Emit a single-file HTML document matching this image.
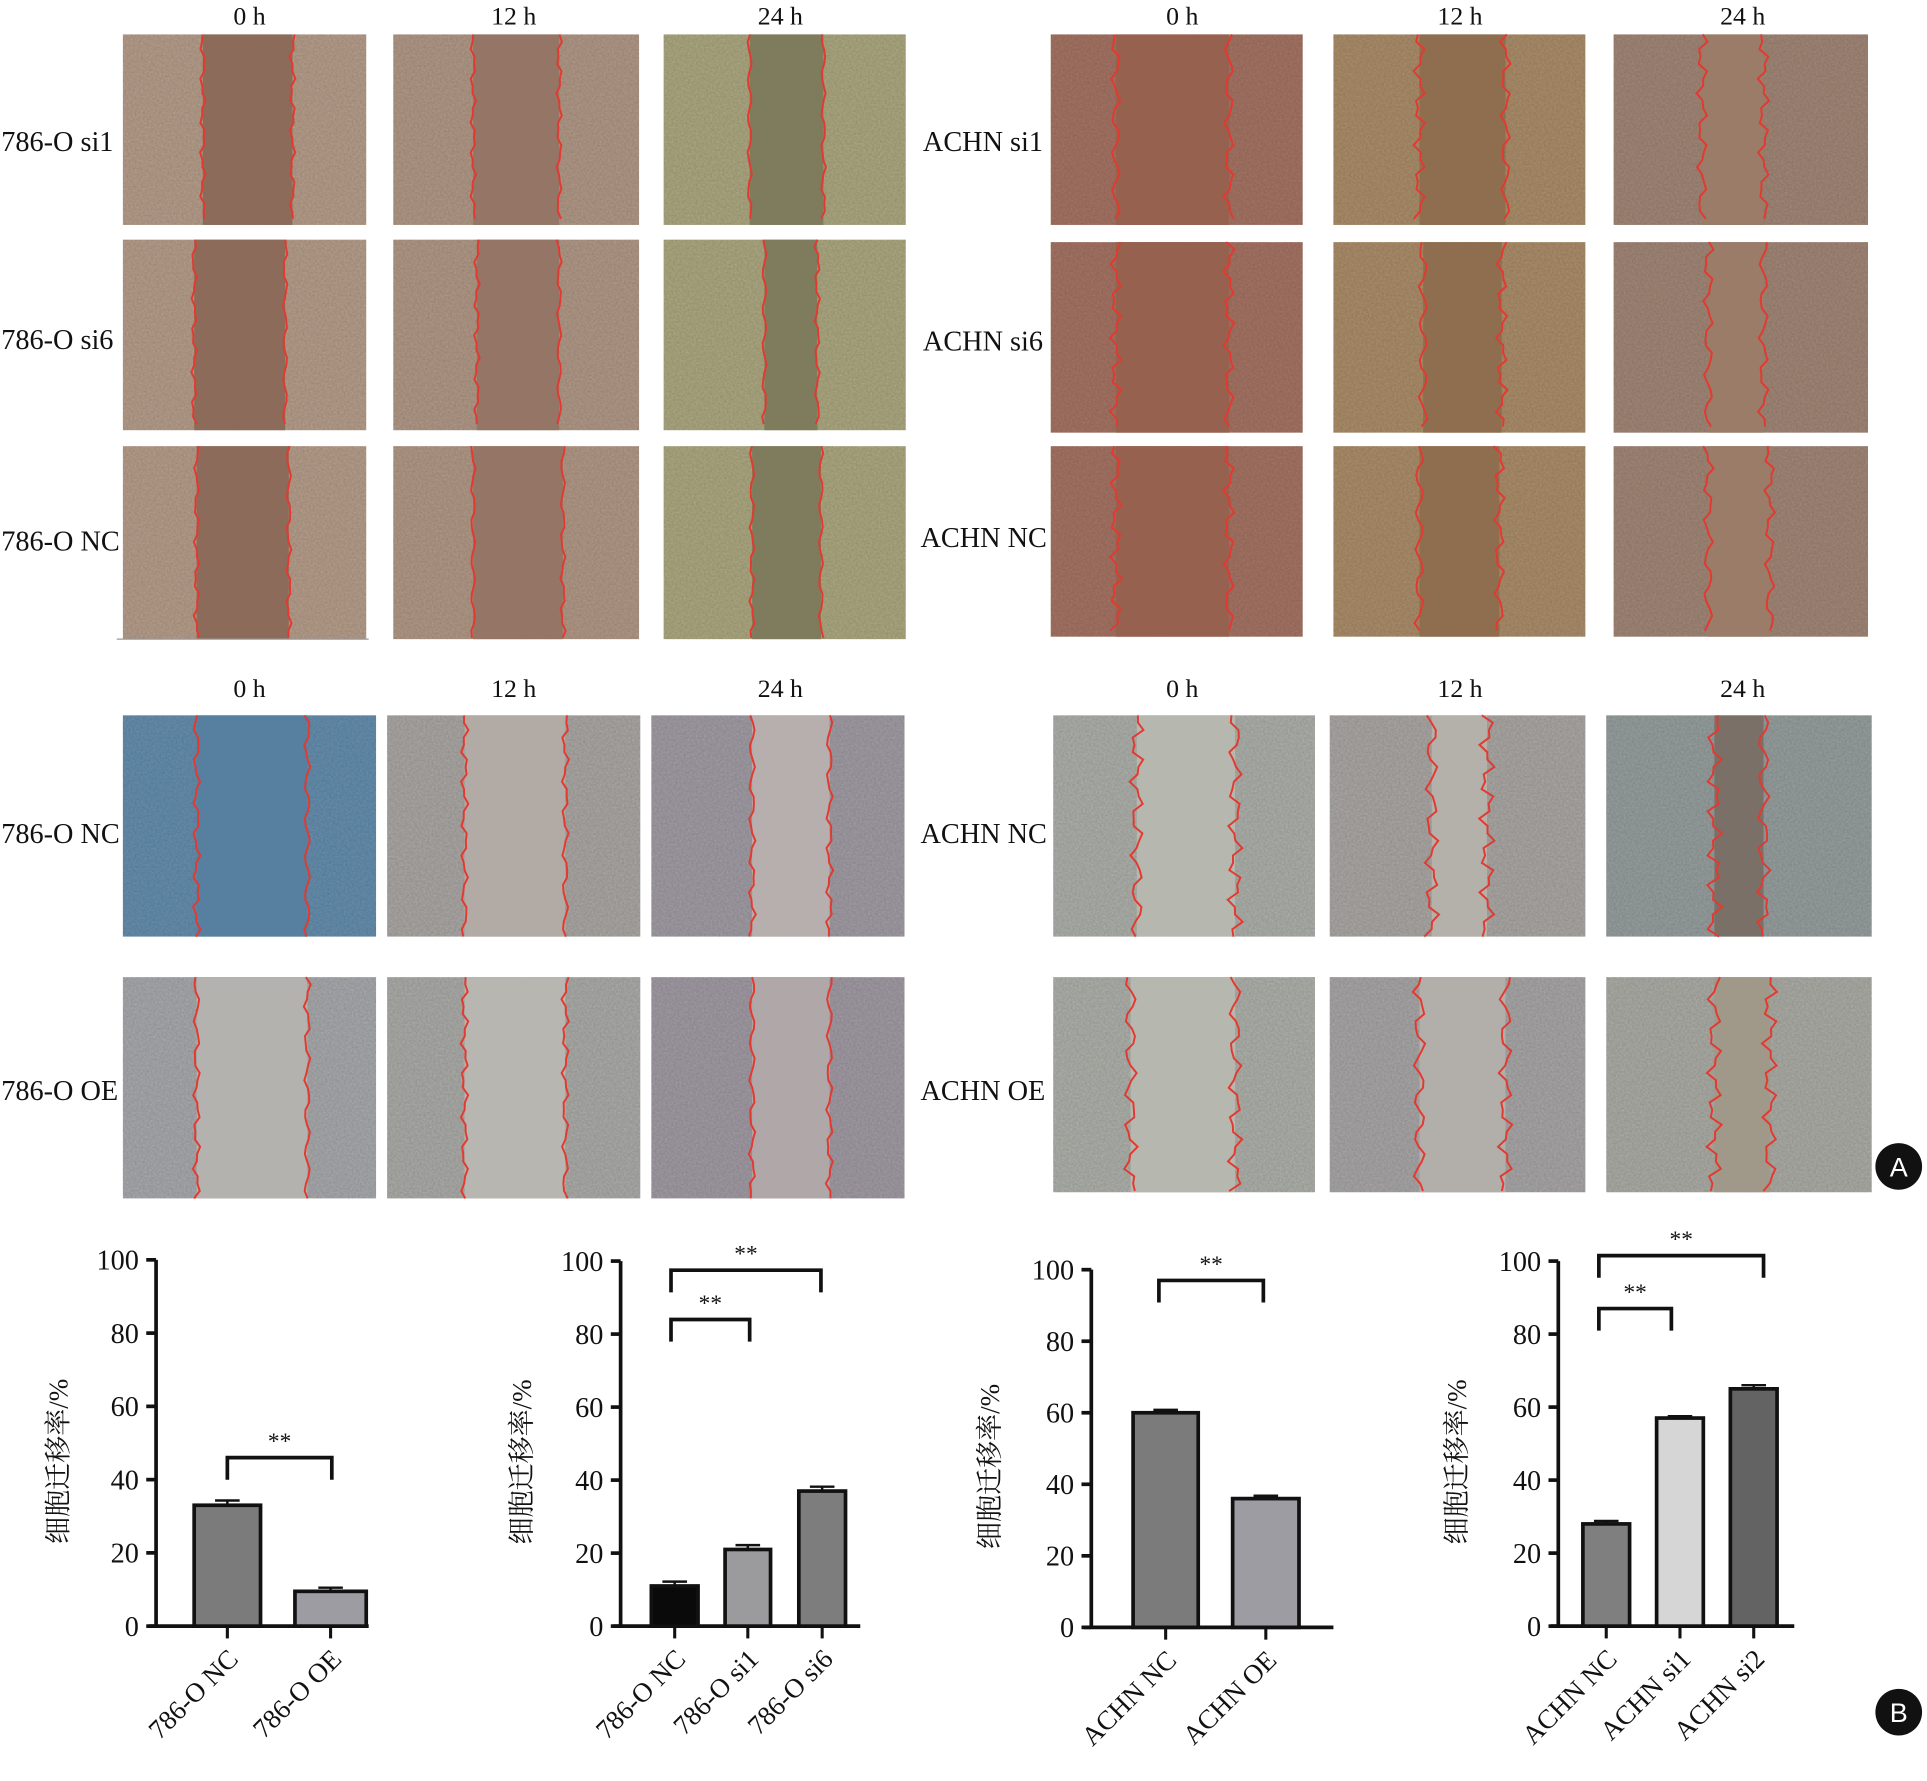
<!DOCTYPE html>
<html><head><meta charset="utf-8">
<style>html,body{margin:0;padding:0;background:#fff;}svg{display:block}</style></head>
<body>
<svg id="s" width="1927" height="1781" viewBox="0 0 1568 1449" preserveAspectRatio="none" xmlns="http://www.w3.org/2000/svg" font-family="'Liberation Serif','Noto Serif CJK SC',serif">
<defs>
<filter id="n" x="0" y="0" width="100%" height="100%">
<feTurbulence type="fractalNoise" baseFrequency="0.6" numOctaves="2" seed="3"/>
<feColorMatrix type="matrix" values="0 0 0 0 0  0 0 0 0 0  0 0 0 0 0  0 0 0 0.18 0"/>
<feComposite in2="SourceGraphic" operator="in"/>
</filter>
</defs>
<g id="panels"></g>
<g font-size="21" fill="#111">
<text x="203" y="20" text-anchor="middle">0 h</text>
<text x="418" y="20" text-anchor="middle">12 h</text>
<text x="635" y="20" text-anchor="middle">24 h</text>
<text x="962" y="20" text-anchor="middle">0 h</text>
<text x="1188" y="20" text-anchor="middle">12 h</text>
<text x="1418" y="20" text-anchor="middle">24 h</text>
<text x="203" y="567" text-anchor="middle">0 h</text>
<text x="418" y="567" text-anchor="middle">12 h</text>
<text x="635" y="567" text-anchor="middle">24 h</text>
<text x="962" y="567" text-anchor="middle">0 h</text>
<text x="1188" y="567" text-anchor="middle">12 h</text>
<text x="1418" y="567" text-anchor="middle">24 h</text>
</g>
<g font-size="23" fill="#111">
<text x="1" y="123">786-O si1</text>
<text x="1" y="284">786-O si6</text>
<text x="1" y="448">786-O NC</text>
<text x="751" y="123">ACHN si1</text>
<text x="751" y="285">ACHN si6</text>
<text x="749" y="445">ACHN NC</text>
<text x="1" y="686">786-O NC</text>
<text x="1" y="895">786-O OE</text>
<text x="749" y="686">ACHN NC</text>
<text x="749" y="895">ACHN OE</text>
</g>
<line x1="95" y1="520" x2="300" y2="520" stroke="#999" stroke-width="1"/>
<circle cx="1545" cy="949" r="19" fill="#111"/><text x="1545" y="957" text-anchor="middle" font-family="'Liberation Sans',sans-serif" font-size="22" fill="#fff">A</text>
<circle cx="1545" cy="1393" r="19" fill="#111"/><text x="1545" y="1401" text-anchor="middle" font-family="'Liberation Sans',sans-serif" font-size="22" fill="#fff">B</text>
<g id="charts" fill="#111"></g>
</svg>
<script>
var NS="http://www.w3.org/2000/svg";
function el(p,t,a,txt){var e=document.createElementNS(NS,t);for(var k in a)e.setAttribute(k,a[k]);if(txt!=null)e.textContent=txt;p.appendChild(e);return e;}
var P=document.getElementById('panels');
function edge(x,y0,y1,amp){var pts=[];var s=Math.abs(Math.sin(x*7.3));for(var y=y0;y<=y1;y+=6){pts.push((x+amp*Math.sin(y*0.21+s*10)+amp*0.6*Math.sin(y*0.53+x))+","+y);}el(P,'polyline',{points:pts.join(' '),fill:'none',stroke:'#e23a30','stroke-width':1.6});}
function panel(x0,x1,y0,y1,g0,g1,bg,gap,amp){el(P,'rect',{x:x0,y:y0,width:x1-x0,height:y1-y0,fill:bg});el(P,'rect',{x:x0,y:y0,width:x1-x0,height:y1-y0,fill:bg,filter:'url(#n)'});el(P,'rect',{x:g0,y:y0,width:g1-g0,height:y1-y0,fill:gap});edge(g0,y0,y1,amp);edge(g1,y0,y1,amp);}
var TL=[[28,183,[[165,238],[385,455],[610,670]]],[195,350,[[158,232],[388,455],[622,665]]],[363,520,[[160,235],[385,458],[612,668]]]];
var tlx=[[100,298],[320,520],[540,737]];
var tlc=[['#b89f8c','#8c6b5a'],['#b39a88','#957565'],['#aeaa82','#7f7c5e']];
TL.forEach(function(r){for(var i=0;i<3;i++)panel(tlx[i][0],tlx[i][1],r[0],r[1],r[2][i][0],r[2][i][1],tlc[i][0],tlc[i][1],1.5);});
var TR=[[28,183,[[908,1000],[1155,1225],[1385,1435]]],[197,352,[[908,1000],[1158,1222],[1390,1435]]],[363,518,[[908,1000],[1155,1220],[1390,1440]]]];
var trx=[[855,1060],[1085,1290],[1313,1520]];
var trc=[['#a77565','#96614f'],['#ad8f6b','#8f6e50'],['#a38878','#9a7c68']];
TR.forEach(function(r){for(var i=0;i<3;i++)panel(trx[i][0],trx[i][1],r[0],r[1],r[2][i][0],r[2][i][1],trc[i][0],trc[i][1],3);});
var blx=[[100,306],[315,521],[530,736]];
var BL=[[582,762,[[160,250],[378,460],[612,675]]],[795,975,[[160,250],[378,460],[612,675]]]];
var blc=[[['#6690b0','#567fa0'],['#aca9a6','#b2aaa4'],['#a39ea6','#b6afae']],[['#aaabae','#b3b2ae'],['#adadaa','#b8b6b0'],['#a39ca6','#b0a8a8']]];
BL.forEach(function(r,j){for(var i=0;i<3;i++)panel(blx[i][0],blx[i][1],r[0],r[1],r[2][i][0],r[2][i][1],blc[j][i][0],blc[j][i][1],2);});
var brx=[[857,1070],[1082,1290],[1307,1523]];
var BR=[[582,762,[[925,1005],[1165,1210],[1395,1435]]],[795,970,[[920,1005],[1155,1225],[1395,1440]]]];
var brc=[[['#afb2ac','#b6b8b0'],['#aca9a6','#b4b0aa'],['#98a0a0','#7a7068']],[['#b0b2ac','#b6b8b0'],['#aaa8a8','#b2aeaa'],['#aeaea8','#a09888']]];
BR.forEach(function(r,j){for(var i=0;i<3;i++)panel(brx[i][0],brx[i][1],r[0],r[1],r[2][i][0],r[2][i][1],brc[j][i][0],brc[j][i][1],4);});
var C=document.getElementById('charts');
function chart(ax,top,bot,xend,bars,brackets,labcx){
 var sc=(bot-top)/100;
 el(C,'line',{x1:ax,y1:top,x2:ax,y2:bot+1,stroke:'#111','stroke-width':3});
 el(C,'line',{x1:ax-6,y1:bot,x2:xend,y2:bot,stroke:'#111','stroke-width':3});
 for(var v=0;v<=100;v+=20){var y=bot-v*sc;el(C,'line',{x1:ax-8,y1:y,x2:ax,y2:y,stroke:'#111','stroke-width':3});el(C,'text',{x:ax-14,y:y+8,'text-anchor':'end','font-size':23},String(v));}
 el(C,'text',{x:0,y:0,'text-anchor':'middle','font-size':22,transform:'translate('+labcx+','+(top+(bot-top)*0.55)+') rotate(-90)'},'细胞迁移率/%');
 bars.forEach(function(b){var y=bot-b[2]*sc;var cx=(b[0]+b[1])/2;
  el(C,'line',{x1:cx,y1:y-b[4]*sc,x2:cx,y2:y,stroke:'#111','stroke-width':2});
  el(C,'line',{x1:cx-10,y1:y-b[4]*sc,x2:cx+10,y2:y-b[4]*sc,stroke:'#111','stroke-width':2});
  el(C,'rect',{x:b[0],y:y,width:b[1]-b[0],height:bot-y,fill:b[3],stroke:'#111','stroke-width':3});
  el(C,'line',{x1:cx,y1:bot,x2:cx,y2:bot+10,stroke:'#111','stroke-width':2.5});
  el(C,'text',{x:0,y:0,'text-anchor':'end','font-size':22,transform:'translate('+(cx+10)+','+(bot+28)+') rotate(-45)'},b[5]);
 });
 brackets.forEach(function(k){var y=bot-k[2]*sc;
  el(C,'polyline',{points:k[0]+','+(y+18)+' '+k[0]+','+y+' '+k[1]+','+y+' '+k[1]+','+(y+18),fill:'none',stroke:'#111','stroke-width':3});
  el(C,'text',{x:(k[0]+k[1])/2,y:y-7,'text-anchor':'middle','font-size':19},'**');});
}
chart(127,1025,1323,300,[[158,212,33,'#7b7b7b',1.3,'786-O NC'],[240,298,9.5,'#9c9ca2',1,'786-O OE']],[[185,270,46]],55);
chart(505,1026,1323,700,[[530,568,11,'#0a0a0a',1.2,'786-O NC'],[590,627,21,'#9b9b9e',1.2,'786-O si1'],[650,688,37,'#7d7d7d',1.2,'786-O si6']],[[546,610,84],[546,668,97.5]],432);
chart(888,1033,1324,1085,[[922,975,60,'#7b7b7b',0.8,'ACHN NC'],[1003,1057,36,'#9c9ca2',0.8,'ACHN OE']],[[943,1028,97]],813);
chart(1268,1026,1323,1460,[[1288,1326,28,'#7f7f7f',0.8,'ACHN NC'],[1348,1386,57,'#d6d6d6',0.5,'ACHN si1'],[1408,1446,65,'#636363',1,'ACHN si2']],[[1301,1360,87],[1301,1435,101.5]],1193);
</script>
</body></html>
